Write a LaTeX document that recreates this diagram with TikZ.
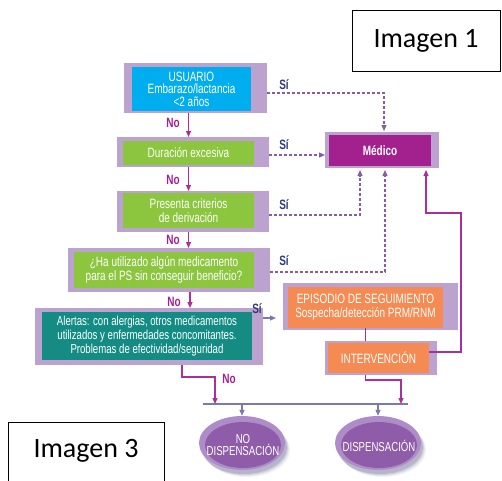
\documentclass[tikz,border=0pt]{standalone}
\usepackage{fontspec}
\usetikzlibrary{arrows.meta,calc}
\newfontfamily\cf[FakeStretch=0.74]{Liberation Sans}
\newfontfamily\calf{Carlito}
\definecolor{lilac}{HTML}{BBA2CF}
\definecolor{cyanb}{HTML}{00AEEF}
\definecolor{greenb}{HTML}{8CC63F}
\definecolor{magb}{HTML}{A3218E}
\definecolor{tealb}{HTML}{148C84}
\definecolor{orangeb}{HTML}{F58A52}
\definecolor{arrmag}{HTML}{A8309A}
\definecolor{dashp}{HTML}{8A5AAA}
\definecolor{navy}{HTML}{2E3A7A}
\definecolor{slate}{HTML}{7C79B0}
\definecolor{ellout}{HTML}{AE8CC8}
\definecolor{ellin}{HTML}{8E5CA8}
\definecolor{shadowc}{HTML}{3A3470}
\tikzset{
  shad/.style={fill=lilac, draw=none, inner sep=0pt, outer sep=0pt},
  inbox/.style={draw=none, inner sep=0pt, outer sep=0pt, text=white, align=center, font=\cf\fontsize{13.5}{12.5}\selectfont},
  sitext/.style={text=navy, font=\cf\bfseries\fontsize{13.5}{13}\selectfont},
  notext/.style={text=magb, font=\cf\bfseries\fontsize{13.5}{13}\selectfont},
  magarrow/.style={draw=arrmag, line width=1.2pt, -{Triangle[length=6pt,width=5pt]}},
  magline/.style={draw=arrmag, line width=1.2pt},
  dasharrow/.style={draw=dashp, line width=1.1pt, dash pattern=on 3pt off 2pt, -{Triangle[length=6pt,width=5pt]}},
  slatearrow/.style={draw=slate, line width=1.2pt, -{Triangle[length=6pt,width=5pt]}},
  imgbox/.style={draw=black, line width=0.9pt, fill=white, inner sep=0pt},
  imgtext/.style={font=\calf\fontsize{28}{30}\selectfont}
}
\begin{document}
\begin{tikzpicture}[x=1pt,y=-1pt]
\useasboundingbox (0,0) rectangle (502,480);
\fill[white] (0,0) rectangle (502,480);

% USUARIO
\node[shad, minimum width=143pt, minimum height=50pt] (uo) at (195.5,88) {};
\node[inbox, fill=cyanb, minimum width=119pt, minimum height=44pt] (u) at (191.5,89) {USUARIO\\Embarazo/lactancia\\<2 años};
% Duracion
\node[shad, minimum width=152pt, minimum height=30pt] (do) at (193,152) {};
\node[inbox, fill=greenb, minimum width=131pt, minimum height=24pt] (d) at (188.5,153) {Duración excesiva};
% Presenta
\node[shad, minimum width=152pt, minimum height=41pt] (po) at (193,211.5) {};
\node[inbox, fill=greenb, minimum width=131pt, minimum height=35pt, font=\cf\fontsize{13.5}{14}\selectfont] (p) at (188.5,210.5) {Presenta criterios\\de derivación};
% Ha utilizado
\node[shad, minimum width=202pt, minimum height=44pt] (ho) at (169,270) {};
\node[inbox, fill=greenb, minimum width=180pt, minimum height=36pt, font=\cf\fontsize{13.5}{14}\selectfont] (h) at (164,270) {¿Ha utilizado algún medicamento\\para el PS sin conseguir beneficio?};
% Alertas
\node[shad, minimum width=228pt, minimum height=57pt] (ao) at (149,336.5) {};
\node[inbox, fill=tealb, minimum width=210pt, minimum height=48pt, font=\cf\fontsize{13}{14}\selectfont] (a) at (147,336) {Alertas: con alergias, otros medicamentos\\utilizados y enfermedades concomitantes.\\Problemas de efectividad/seguridad};
% Medico
\node[shad, minimum width=114pt, minimum height=36pt] (mo) at (382,150) {};
\node[inbox, fill=magb, minimum width=102pt, minimum height=31pt, font=\cf\bfseries\fontsize{13.5}{13}\selectfont] (m) at (380,150.5) {Médico};
% Episodio
\node[shad, minimum width=175pt, minimum height=47pt] (eo) at (370.5,306.5) {};
\node[inbox, fill=orangeb, minimum width=155pt, minimum height=41pt, font=\cf\fontsize{13.5}{14}\selectfont] (e) at (365.5,307.5) {EPISODIO DE SEGUIMIENTO\\Sospecha/detección PRM/RNM};
% Intervencion
\node[shad, minimum width=112pt, minimum height=34pt] (io) at (381,358) {};
\node[inbox, fill=orangeb, minimum width=101pt, minimum height=30pt] (i) at (378.5,358) {INTERVENCIÓN};

% No arrows
\draw[magarrow] (uo.south -| d.north) -- (do.north -| d.north);
\draw[magarrow] (do.south -| d.south) -- (po.north -| d.south);
\draw[magarrow] (po.south -| p.south) -- (ho.north -| p.south);
\draw[magarrow] ($(ho.south)+(21,0)$) -- ($(ao.north)+(41,0)$);
\node[notext] at (173,123) {No};
\node[notext] at (173,180) {No};
\node[notext] at (173,240) {No};
\node[notext] at (174,302) {No};

% Si dashed
\coordinate (s1) at ($(uo.east)+(0,5)$);
\coordinate (s2) at ($(do.east)+(0,3)$);
\coordinate (s3) at ($(po.east)+(0,3.5)$);
\coordinate (s4) at ($(ho.east)+(0,2)$);
\coordinate (t1) at ($(mo.north)+(2,-1)$);
\coordinate (t3) at ($(mo.south)+(-22,2)$);
\coordinate (t4) at ($(mo.south)+(3,2)$);
\draw[dasharrow] (s1) -| (t1);
\draw[dasharrow] (s2) -- (s2 -| mo.west);
\draw[dasharrow] (s3) -| (t3);
\draw[dasharrow] (s4) -| (t4);
\node[sitext] at (284,85) {Sí};
\node[sitext] at (284,145) {Sí};
\node[sitext] at (284,205) {Sí};
\node[sitext] at (284,261) {Sí};

% Alertas Si
\coordinate (s5) at ($(ao.north east)+(0,10)$);
\draw[slatearrow, shorten >=7pt] (s5) -- (s5 -| eo.west);
\node[sitext] at (257,309) {Sí};

% Episodio -> Intervencion
\draw[magline] (e.south) -- (e.south |- io.north);

% Intervencion -> Medico
\coordinate (rt) at (461,213);
\coordinate (ie) at ($(i.east)+(0,-6)$);
\coordinate (t5) at ($(mo.south)+(44,2)$);
\draw[magarrow] (ie) -| (rt) -| (t5);

% bar
\coordinate (bl) at (203,404);
\coordinate (br) at (408,404);
\coordinate (barL) at (215,404);
\coordinate (barR) at (401,404);
\coordinate (as) at ($(ao.south)+(33,0)$);
\draw[draw=slate, line width=1.2pt] (bl) -- (br);
\draw[magarrow] (as) -- ++(0,12) -| (barL);
\node[notext] at (229,379) {No};
\draw[magarrow] (io.south -| e.south) -- ++(0,5) -| (barR);

% ellipses
\foreach \cx/\nm in {242/nd,378/ds}{
  \foreach \k/\op in {5/0.06,4/0.08,3/0.12,2/0.16}{
    \fill[shadowc, opacity=\op] (\cx+\k,445+\k) ellipse [x radius=43pt, y radius=27pt];
  }
  \fill[ellout] (\cx,443) ellipse [x radius=43pt, y radius=27pt];
  \fill[ellin] (\cx+1,445) ellipse [x radius=38pt, y radius=23pt];
  \node[inner sep=0pt, minimum width=86pt, minimum height=54pt] (\nm) at (\cx,443) {};
}
\node[inbox, font=\cf\fontsize{13}{12.5}\selectfont] at (243,445) {NO\\DISPENSACIÓN};
\node[inbox, font=\cf\fontsize{13}{12.5}\selectfont] at (379,446) {DISPENSACIÓN};
\draw[slatearrow] (bl -| nd.north) -- (nd.north);
\draw[slatearrow] (bl -| ds.north) -- (ds.north);

% Imagen boxes
\node[imgbox, minimum width=148pt, minimum height=61pt] (im1) at (426,40.5) {};
\node[imgtext] at (im1) {Imagen 1};
\draw[black, line width=0.9pt] (164,484) -- (164,422) -- (8,422) -- (8,484);
\node[imgtext] (im3) at (86,451) {Imagen 3};
\end{tikzpicture}
\end{document}
